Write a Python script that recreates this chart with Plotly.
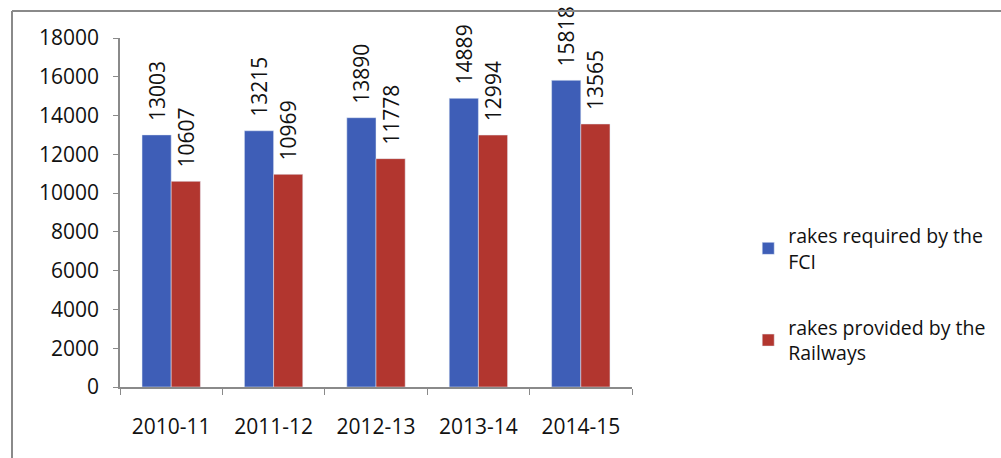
import plotly.graph_objects as go

years = ["2010-11", "2011-12", "2012-13", "2013-14", "2014-15"]
required_fci = [13003, 13215, 13890, 14889, 15818]
provided_railways = [10607, 10969, 11778, 12994, 13565]
series_names = ["rakes required by the<br>FCI", "rakes provided by the<br>Railways"]
y_ticks = [0, 2000, 4000, 6000, 8000, 10000, 12000, 14000, 16000, 18000]

FONT = "Open Sans"
FS = 21
LFS = 19.5
BLUE = "#3E5EB7"
RED = "#B2362F"

fig = go.Figure()
for i, (name, vals, col) in enumerate([(series_names[0], required_fci, BLUE),
                                       (series_names[1], provided_railways, RED)]):
    fig.add_trace(go.Bar(
        x=years, y=vals, name=name, legendgroup=f"g{i}",
        marker=dict(color=col),
        text=["\u00a0\u00a0" + str(v) for v in vals], textposition="outside", textangle=-90,
        textfont=dict(family=FONT, size=FS, color="#111111"),
        constraintext="none", cliponaxis=False,
    ))

W, H = 1001, 458
fig.update_layout(
    width=W, height=H,
    margin=dict(l=120, r=369, t=38, b=71, autoexpand=False),
    paper_bgcolor="white", plot_bgcolor="white",
    barmode="group", bargap=0.43, bargroupgap=0,
    font=dict(family=FONT, size=FS, color="#111111"),
    legend=dict(
        x=1.227, y=0.265, xanchor="left", yanchor="middle",
        font=dict(family=FONT, size=LFS, color="#111111"),
        tracegroupgap=38, itemwidth=30,
        bgcolor="rgba(0,0,0,0)",
    ),
    showlegend=True,
)
fig.update_xaxes(
    type="category",
    showline=True, linecolor="#8a8a8a", linewidth=1.5,
    ticks="outside", ticklen=6, tickcolor="#8a8a8a", tickson="boundaries",
    tickfont=dict(family=FONT, size=FS), showgrid=False,
    ticklabelstandoff=20,
)
fig.update_yaxes(
    range=[0, 18000], tickvals=y_ticks, ticktext=[str(v) for v in y_ticks],
    showline=True, linecolor="#8a8a8a", linewidth=1.5,
    ticks="outside", ticklen=5, tickcolor="#8a8a8a",
    tickfont=dict(family=FONT, size=FS), showgrid=False, zeroline=False,
    ticklabelstandoff=10,
)
# outer chart border (top and left visible)
fig.add_shape(type="line", xref="paper", yref="paper",
              x0=(12 - 120) / 512, x1=(1001 - 120) / 512 + 0.01,
              y0=(458 - 71 - 11) / 349, y1=(458 - 71 - 11) / 349,
              line=dict(color="#8a8a8a", width=2))
fig.add_shape(type="line", xref="paper", yref="paper",
              x0=(12 - 120) / 512, x1=(12 - 120) / 512,
              y0=(458 - 71 - 11) / 349, y1=-71 / 349 - 0.01,
              line=dict(color="#8a8a8a", width=2))

fig.write_html("out.html")
